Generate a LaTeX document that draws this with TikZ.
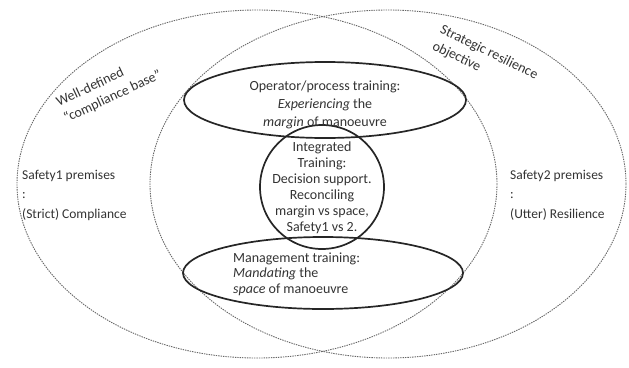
\documentclass[tikz,border=0pt]{standalone}
\usepackage{fontspec}
\setmainfont{Carlito}
\begin{document}
\begin{tikzpicture}[x=1pt,y=-1pt,
    zone/.style={black!60, line width=0.9pt, dash pattern=on 1.4pt off 1pt},
    ring/.style={black!85, line width=1.7pt},
    lbl/.style={text=black!80, inner sep=0pt, font=\fontsize{14}{18}\selectfont}]
  \useasboundingbox (0,0) rectangle (629,367);
  \draw[zone] (257,184) ellipse [x radius=240, y radius=174];
  \draw[zone] (388,184) ellipse [x radius=238, y radius=174];
  \draw[ring] (325,100) ellipse [x radius=141, y radius=38];
  \draw[ring] (322,187) circle [radius=62];
  \draw[ring] (323,273) ellipse [x radius=140, y radius=36];
  \draw
    (109,89) node[lbl, align=left, rotate=25] (base){Well-defined\\``compliance base''}
    (485,61) node[lbl, align=left, rotate=-26] (goal){Strategic resilience\\objective}
    (22,195) node[lbl, align=left, anchor=west, font=\fontsize{13.5}{19.5}\selectfont] (s1){Safety1 premises\\:\\(Strict) Compliance}
    (510,195) node[lbl, align=left, anchor=west, font=\fontsize{13.5}{19.5}\selectfont] (s2){Safety2 premises\\:\\(Utter) Resilience}
    (325,105) node[lbl, align=center] (op){Operator/process training:\\\textit{Experiencing} the\\\textit{margin} of manoeuvre}
    (322,188) node[lbl, align=center, font=\fontsize{14}{16}\selectfont] (int){Integrated\\Training:\\Decision support.\\Reconciling\\margin vs space,\\Safety1 vs 2.}
    (233,274) node[lbl, align=left, anchor=west, font=\fontsize{14}{15.5}\selectfont] (mg){Management training:\\\textit{Mandating} the\\\textit{space} of manoeuvre};
\end{tikzpicture}
\end{document}
